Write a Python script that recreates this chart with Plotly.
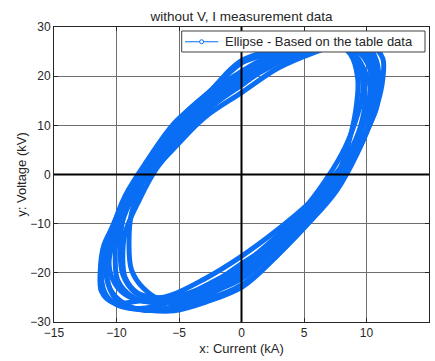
import plotly.graph_objects as go

# V-I trajectory, nine recorded cycles (current in kA, voltage in kV)
loop1_x = [10.3, 9.8, 8.9, 7.2, 5.2, 2.6, 0.1, -2.7, -5.0, -7.3, -8.8, -9.9, -10.1, -9.9, -8.7, -7.3, -5.0, -2.7, 0.1, 2.5, 5.2, 7.2, 8.9, 9.8]
loop1_y = [17.2, 21.4, 24.9, 26.8, 25.9, 23.5, 20.2, 14.7, 9.0, 2.0, -4.9, -11.0, -17.2, -21.5, -24.9, -26.0, -25.7, -23.9, -19.8, -15.1, -8.6, -2.3, 4.9, 11.1]

loop2_x = [11.0, 10.8, 10.0, 7.9, 5.5, 2.9, -0.1, -2.8, -5.6, -7.8, -9.7, -10.6, -11.2, -10.9, -9.9, -7.9, -5.5, -2.9, 0.1, 2.8, 5.6, 7.8, 9.6, 10.8]
loop2_y = [19.2, 23.1, 26.5, 26.9, 26.1, 23.1, 19.2, 13.3, 7.1, -0.2, -7.0, -13.2, -19.1, -24.2, -26.6, -27.2, -25.8, -23.4, -18.8, -13.6, -6.8, 0.1, 7.1, 13.5]

loop3_x = [9.2, 9.3, 8.7, 7.3, 5.0, 2.4, 0.1, -2.3, -4.6, -6.4, -7.8, -8.8, -9.0, -8.8, -7.9, -6.4, -4.6, -2.4, -0.1, 2.3, 4.5, 6.5, 7.9, 8.7]
loop3_y = [14.2, 19.5, 24.5, 27.0, 26.8, 24.7, 22.8, 17.4, 12.2, 5.5, -1.0, -7.9, -13.8, -19.4, -23.0, -25.6, -25.9, -25.0, -22.6, -17.8, -11.9, -5.8, 1.2, 7.7]

loop4_x = [10.6, 10.4, 9.2, 7.6, 5.3, 2.8, -0.1, -2.7, -5.4, -7.5, -9.3, -10.3, -10.8, -10.5, -9.4, -7.5, -5.4, -2.8, 0.1, 2.7, 5.3, 7.6, 9.2, 10.4]
loop4_y = [17.7, 22.4, 26.3, 27.8, 27.9, 25.6, 23.0, 16.5, 10.4, 3.0, -4.3, -11.0, -17.4, -23.5, -26.8, -27.6, -27.7, -25.9, -22.8, -16.9, -10.1, -3.3, 4.0, 11.4]

loop5_x = [9.7, 9.5, 8.8, 7.0, 4.8, 2.4, 0.1, -2.5, -4.7, -6.8, -8.2, -9.3, -9.5, -9.3, -8.3, -6.9, -4.8, -2.5, -0.1, 2.5, 4.8, 6.8, 8.3, 9.2]
loop5_y = [16.8, 21.5, 24.8, 26.6, 25.0, 22.4, 18.3, 13.6, 7.4, 1.2, -5.3, -11.8, -17.1, -21.0, -24.1, -25.0, -24.7, -22.1, -18.7, -13.3, -7.6, -0.9, 5.6, 11.5]

loop6_x = [11.3, 11.3, 10.5, 8.1, 5.8, 2.9, 0.1, -3.0, -5.6, -8.1, -9.8, -11.0, -11.3, -11.2, -10.3, -8.1, -5.7, -3.0, -0.1, 2.9, 5.7, 8.1, 9.9, 10.9]
loop6_y = [19.4, 23.6, 26.0, 26.6, 24.8, 21.6, 16.8, 11.5, 4.8, -1.6, -8.5, -14.3, -19.6, -23.8, -26.0, -25.7, -24.6, -21.3, -16.8, -11.2, -5.1, 1.9, 8.2, 14.6]

loop7_x = [10.4, 10.2, 9.2, 7.6, 5.2, 2.7, 0.1, -2.8, -5.2, -7.4, -9.1, -10.1, -10.6, -10.1, -9.1, -7.3, -5.3, -2.7, -0.1, 2.8, 5.2, 7.5, 9.0, 10.2]
loop7_y = [18.1, 22.0, 25.3, 26.6, 25.1, 22.4, 18.6, 13.0, 7.2, 0.2, -6.4, -12.4, -18.1, -22.3, -24.7, -25.9, -24.9, -22.7, -18.3, -13.4, -6.9, -0.5, 6.2, 12.7]

loop8_x = [9.9, 9.6, 8.9, 7.1, 5.0, 2.5, -0.1, -2.6, -4.8, -7.0, -8.4, -9.5, -9.7, -9.5, -8.5, -6.9, -4.9, -2.6, 0.1, 2.5, 4.9, 7.0, 8.4, 9.5]
loop8_y = [15.4, 20.8, 24.6, 26.8, 25.8, 24.4, 20.8, 16.4, 10.3, 4.0, -3.0, -9.4, -15.6, -20.3, -24.0, -25.7, -26.0, -24.2, -21.1, -16.1, -10.5, -3.8, 3.0, 9.6]

loop9_x = [10.9, 10.5, 9.5, 7.7, 5.4, 2.9, 0.0, -2.8, -5.5, -7.7, -9.4, -10.6, -10.9, -10.5, -9.4, -7.8, -5.4, -2.8, 0.0, 2.8, 5.5, 7.7, 9.5, 10.5]
loop9_y = [18.6, 23.0, 26.4, 27.5, 27.1, 24.5, 20.6, 14.9, 8.6, 1.3, -5.8, -12.4, -18.4, -23.3, -26.2, -27.6, -26.9, -24.7, -20.4, -15.1, -8.4, -1.5, 5.7, 12.6]

x_ticks = [-15, -10, -5, 0, 5, 10, 15]
y_ticks = [-30, -20, -10, 0, 10, 20, 30]
legend_label = "Ellipse - Based on the table data"

loops = [
    (loop1_x, loop1_y), (loop2_x, loop2_y), (loop3_x, loop3_y),
    (loop4_x, loop4_y), (loop5_x, loop5_y), (loop6_x, loop6_y),
    (loop7_x, loop7_y), (loop8_x, loop8_y), (loop9_x, loop9_y),
]

BLUE = "rgb(10,110,245)"
TEXT = "#262626"
FONT = "Liberation Sans, Arial, sans-serif"

fig = go.Figure()
for lx, ly in loops:
    fig.add_trace(go.Scatter(
        x=lx + lx[:1], y=ly + ly[:1],
        mode="lines",
        line=dict(color=BLUE, width=5, shape="spline", smoothing=1.0),
        showlegend=False, hoverinfo="x+y",
    ))

axis_common = dict(
    showgrid=True, gridcolor="#6e6e6e", gridwidth=1,
    zeroline=False,
    showline=True, linecolor=TEXT, linewidth=1, mirror="ticks",
    ticks="inside", ticklen=4, tickcolor=TEXT,
    tickfont=dict(family=FONT, size=12, color=TEXT),
)

fig.update_xaxes(range=[-15, 15], tickvals=x_ticks,
                 title=dict(text="x: Current (kA)", font=dict(family=FONT, size=13, color=TEXT), standoff=4),
                 **axis_common)
fig.update_yaxes(range=[-30, 30], tickvals=y_ticks,
                 title=dict(text="y: Voltage (kV)", font=dict(family=FONT, size=13, color=TEXT), standoff=0),
                 **axis_common)

# axes through the origin, drawn over the data
fig.add_shape(type="line", x0=-15, x1=15, y0=0, y1=0, line=dict(color="black", width=2), layer="above")
fig.add_shape(type="line", x0=0, x1=0, y0=-30, y1=30, line=dict(color="black", width=2), layer="above")

# legend box (opaque, sits over the data)
fig.add_shape(type="rect", xref="paper", yref="paper", x0=0.3405, x1=0.9893, y0=0.9153, y1=0.9864,
              fillcolor="white", line=dict(color="#404040", width=1), layer="above")
fig.add_shape(type="line", xref="paper", yref="paper", x0=0.3493, x1=0.4381, y0=0.950, y1=0.950,
              line=dict(color=BLUE, width=1.2), layer="above")
fig.add_shape(type="circle", xref="paper", yref="paper", xsizemode="pixel", ysizemode="pixel",
              xanchor=0.3937, yanchor=0.950, x0=-2, x1=2, y0=-2, y1=2,
              line=dict(color=BLUE, width=1), fillcolor="white", layer="above")
fig.add_annotation(text=legend_label, xref="paper", yref="paper", x=0.4499, y=0.950,
                   xanchor="left", yanchor="middle", showarrow=False,
                   font=dict(family=FONT, size=13, color=TEXT))

fig.update_layout(
    width=435, height=361,
    margin=dict(l=54, r=6, t=27, b=39),
    paper_bgcolor="white", plot_bgcolor="white",
    title=dict(text="without V, I measurement data", x=0.5, xref="paper", y=1 - 16 / 361, yanchor="middle",
               font=dict(family=FONT, size=13.5, color=TEXT)),
    showlegend=False,
)

fig.write_html("out.html")
